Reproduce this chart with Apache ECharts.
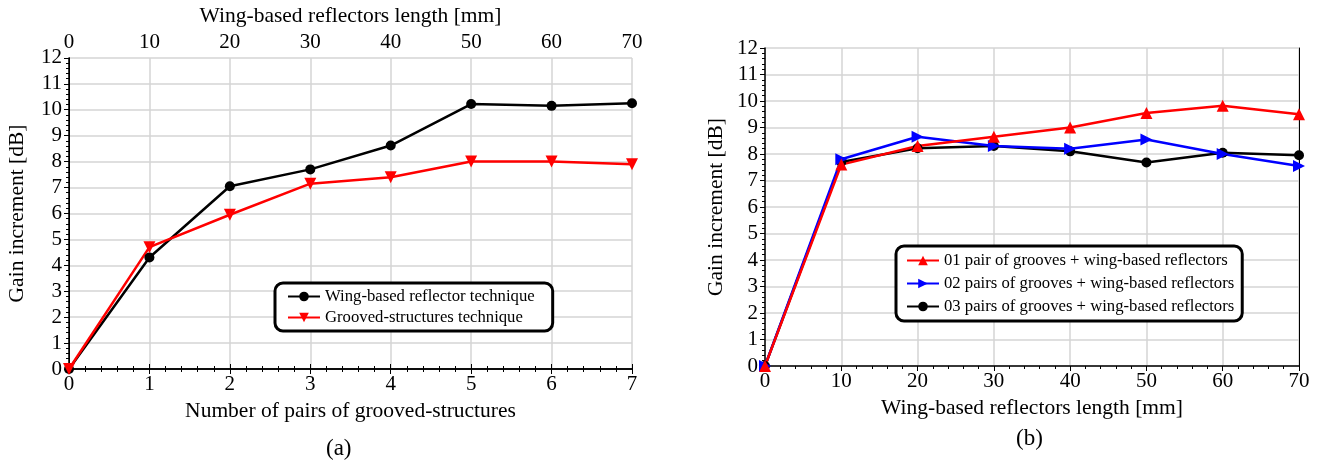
<!DOCTYPE html>
<html>
<head>
<meta charset="utf-8">
<script src="https://cdn.jsdelivr.net/npm/echarts@6/dist/echarts.min.js"></script>
<style>
  html, body { margin: 0; padding: 0; background: #fff; }
  #chart { width: 1318px; height: 465px; }
</style>
</head>
<body>
<div id="chart"></div>
<script>
// (a) gain vs number of pairs of grooved structures / reflector length
const pairs = [0, 1, 2, 3, 4, 5, 6, 7];
const wingGain = [0, 4.3, 7.05, 7.7, 8.62, 10.22, 10.15, 10.25];
const grooveGain = [0, 4.7, 5.95, 7.15, 7.4, 8.0, 8.0, 7.9];

// (b) gain vs wing-based reflectors length
const lengths = [0, 10, 20, 30, 40, 50, 60, 70];
const onePair = [0, 7.6, 8.3, 8.65, 9.0, 9.55, 9.82, 9.5];
const twoPairs = [0, 7.8, 8.65, 8.3, 8.2, 8.55, 8.0, 7.55];
const threePairs = [0, 7.7, 8.22, 8.3, 8.1, 7.68, 8.05, 7.95];

const font = 'Liberation Serif';
const zip = (xs, ys) => xs.map((x, i) => [x, ys[i]]);

const chart = echarts.init(document.getElementById('chart'));

const axisText = { color: '#000', fontFamily: font, fontSize: 21 };
const nameText = { color: '#000', fontFamily: font, fontSize: 21.5 };
const splitLine = { show: true, lineStyle: { color: '#d4d4d4', width: 1.5 } };
const axisLine = { show: true, lineStyle: { color: '#000', width: 1.5 } };

function yAxisFor(gridIndex, gap) {
  return {
    type: 'value', gridIndex, min: 0, max: 12, interval: 1,
    name: 'Gain increment [dB]', nameLocation: 'middle', nameGap: gap,
    nameTextStyle: nameText,
    axisLine, axisTick: { show: true, length: 5, lineStyle: { color: '#000' } },
    minorTick: { show: true, splitNumber: 5, length: 3, lineStyle: { color: '#000' } },
    axisLabel: Object.assign({ margin: 7 }, axisText),
    splitLine
  };
}
function rightEdge(gridIndex) {
  return {
    type: 'value', gridIndex, position: 'right', min: 0, max: 12,
    axisLine: { show: true, lineStyle: { color: '#000', width: 1 } },
    axisTick: { show: false }, axisLabel: { show: false }, splitLine: { show: false }
  };
}
function xAxisFor(gridIndex, max, interval, name, position, gap) {
  return {
    type: 'value', gridIndex, min: 0, max, interval, position,
    name, nameLocation: 'middle', nameGap: gap,
    nameTextStyle: nameText,
    axisLine, axisTick: { show: true, length: 5, lineStyle: { color: '#000' } },
    minorTick: { show: true, splitNumber: 5, length: 3, lineStyle: { color: '#000' } },
    axisLabel: Object.assign({ margin: 5 }, axisText),
    splitLine: position === 'top' ? { show: false } : splitLine
  };
}

function line(name, color, xAxisIndex, yAxisIndex, data, symbol, rotate) {
  return {
    name, type: 'line', xAxisIndex, yAxisIndex, data,
    symbol, symbolSize: symbol === 'circle' ? 10 : 12, symbolRotate: rotate || 0,
    itemStyle: { color }, lineStyle: { color, width: 2.5 },
    z: 3, animation: false
  };
}

const legendBase = {
  orient: 'vertical', backgroundColor: '#fff',
  borderColor: '#000', borderWidth: 3, borderRadius: 8,
  itemWidth: 32, itemHeight: 12, itemGap: 4,
  textStyle: { color: '#000', fontFamily: font, fontSize: 16.7 }
};

chart.setOption({
  animation: false,
  grid: [
    { left: 69, top: 50, width: 563, height: 319 },
    { left: 765, top: 48, width: 534, height: 318 }
  ],
  xAxis: [
    xAxisFor(0, 7, 1, 'Number of pairs of grooved-structures', 'bottom', 29),
    xAxisFor(0, 70, 10, 'Wing-based reflectors length [mm]', 'top', 25),
    xAxisFor(1, 70, 10, 'Wing-based reflectors length [mm]', 'bottom', 29)
  ],
  yAxis: [yAxisFor(0, 41), rightEdge(0), yAxisFor(1, 38), rightEdge(1)],
  legend: [
    Object.assign({}, legendBase, {
      left: 275, top: 283, padding: [5, 18, 5, 12],
      data: ['Wing-based reflector technique', 'Grooved-structures technique']
    }),
    Object.assign({}, legendBase, {
      left: 896, top: 246, padding: [6, 8, 6, 10], itemGap: 6,
      data: ['01 pair of grooves + wing-based reflectors',
             '02 pairs of grooves + wing-based reflectors',
             '03 pairs of grooves + wing-based reflectors']
    })
  ],
  graphic: [
    { type: 'text', left: 326, top: 437, style: { text: '(a)', font: '23px "Liberation Serif"', fill: '#000' } },
    { type: 'text', left: 1016, top: 427, style: { text: '(b)', font: '23px "Liberation Serif"', fill: '#000' } }
  ],
  series: [
    line('Wing-based reflector technique', '#000', 0, 0, zip(pairs, wingGain), 'circle'),
    line('Grooved-structures technique', '#ff0000', 0, 0, zip(pairs, grooveGain), 'triangle', 180),
    line('03 pairs of grooves + wing-based reflectors', '#000', 2, 2, zip(lengths, threePairs), 'circle'),
    line('02 pairs of grooves + wing-based reflectors', '#0000ff', 2, 2, zip(lengths, twoPairs), 'triangle', -90),
    line('01 pair of grooves + wing-based reflectors', '#ff0000', 2, 2, zip(lengths, onePair), 'triangle')
  ]
});
</script>
</body>
</html>
